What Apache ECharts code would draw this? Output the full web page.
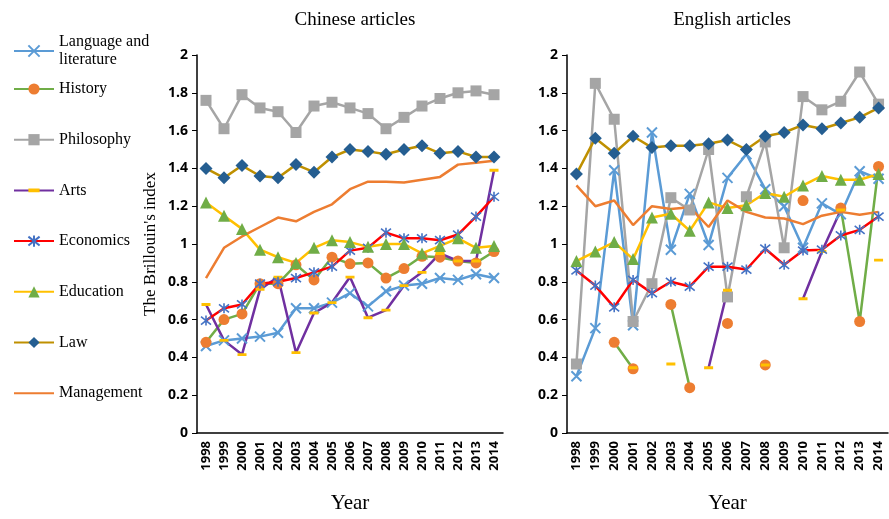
<!DOCTYPE html>
<html>
<head>
<meta charset="utf-8">
<script src="https://cdn.jsdelivr.net/npm/echarts@6/dist/echarts.min.js"></script>
<style>html,body{margin:0;padding:0;background:#fff;}#c{width:889px;height:519px;}</style>
</head>
<body>
<div id="c"></div>
<script>
const years = ['1998','1999','2000','2001','2002','2003','2004','2005','2006','2007','2008','2009','2010','2011','2012','2013','2014'];
const seriesNames = ['Language and literature','History','Philosophy','Arts','Economics','Education','Law','Management'];

// Chinese articles
const cnLanguage   = [0.46,0.49,0.50,0.51,0.53,0.66,0.66,0.69,0.74,0.67,0.75,0.78,0.79,0.82,0.81,0.84,0.82];
const cnHistory    = [0.48,0.60,0.63,0.79,0.79,0.89,0.81,0.93,0.895,0.90,0.82,0.87,0.935,0.93,0.91,0.90,0.96];
const cnPhilosophy = [1.76,1.61,1.79,1.72,1.70,1.59,1.73,1.75,1.72,1.69,1.61,1.67,1.73,1.77,1.80,1.81,1.79];
const cnArts       = [0.68,0.49,0.415,0.76,0.825,0.425,0.635,0.69,0.825,0.61,0.65,0.78,0.85,0.95,0.91,0.91,1.39];
const cnEconomics  = [0.595,0.66,0.68,0.79,0.80,0.82,0.85,0.88,0.965,0.98,1.06,1.03,1.03,1.02,1.05,1.145,1.25];
const cnEducation  = [1.22,1.15,1.08,0.97,0.93,0.90,0.98,1.02,1.01,0.985,1.00,1.00,0.95,0.99,1.03,0.98,0.99];
const cnLaw        = [1.40,1.35,1.415,1.36,1.35,1.42,1.38,1.46,1.50,1.49,1.475,1.50,1.52,1.48,1.49,1.46,1.46];
const cnManagement = [0.82,0.98,1.04,1.09,1.14,1.12,1.17,1.21,1.29,1.33,1.33,1.325,1.34,1.355,1.42,1.43,1.44];

// English articles
const enLanguage   = [0.30,0.555,1.39,0.57,1.59,0.97,1.265,0.995,1.35,1.475,1.29,1.20,0.98,1.215,1.157,1.385,1.345];
const enHistory    = [null,null,0.48,0.34,null,0.68,0.24,null,0.58,null,0.36,null,1.23,null,1.19,0.59,1.41];
const enPhilosophy = [0.365,1.85,1.66,0.59,0.79,1.245,1.18,1.50,0.72,1.25,1.54,0.98,1.78,1.71,1.755,1.91,1.74];
const enArts       = [null,null,null,0.345,null,0.365,null,0.345,0.755,null,0.36,null,0.71,0.96,1.18,null,0.915];
const enEconomics  = [0.86,0.78,0.665,0.81,0.74,0.80,0.775,0.88,0.88,0.865,0.975,0.89,0.965,0.97,1.045,1.075,1.145];
const enEducation  = [0.91,0.96,1.01,0.92,1.14,1.16,1.07,1.22,1.19,1.205,1.27,1.25,1.31,1.36,1.34,1.34,1.37];
const enLaw        = [1.37,1.56,1.48,1.57,1.51,1.52,1.52,1.53,1.55,1.50,1.57,1.59,1.63,1.61,1.64,1.67,1.72];
const enManagement = [1.31,1.20,1.23,1.10,1.20,1.185,1.195,1.09,1.23,1.17,1.14,1.135,1.105,1.15,1.17,1.155,1.17];

const cnData = [cnLanguage,cnHistory,cnPhilosophy,cnArts,cnEconomics,cnEducation,cnLaw,cnManagement];
const enData = [enLanguage,enHistory,enPhilosophy,enArts,enEconomics,enEducation,enLaw,enManagement];

const X_PATH = 'path://M0,0 L10,10 M10,0 L0,10';
const AST_PATH = 'path://M1,1 L9,9 M9,1 L1,9 M5,0 L5,10';
// square-bounded path (zero-area corner anchors) holding a flat dash in the middle
const DASH_PATH = 'path://M0,0 L0.01,0 Z M10,10 L9.99,10 Z M0,3.4 L10,3.4 L10,6.6 L0,6.6 Z';

const styles = [
  {line:'#5B9BD5', symbol:X_PATH, size:10, item:{color:'#5B9BD5', borderColor:'#5B9BD5', borderWidth:2}},
  {line:'#70AD47', symbol:'circle', size:11, item:{color:'#ED7D31'}},
  {line:'#A5A5A5', symbol:'rect', size:11, item:{color:'#A5A5A5'}},
  {line:'#7030A0', symbol:DASH_PATH, size:9, item:{color:'#FFC000'}},
  {line:'#FF0000', symbol:AST_PATH, size:10, item:{color:'#4472C4', borderColor:'#4472C4', borderWidth:1.6}},
  {line:'#FFC000', symbol:'triangle', size:12, item:{color:'#70AD47'}},
  {line:'#BF9000', symbol:'diamond', size:13, item:{color:'#255E91'}},
  {line:'#ED7D31', symbol:'none', size:0, item:{color:'#ED7D31'}}
];

function makeSeries(dataSets, idx) {
  return seriesNames.map((name, i) => ({
    name: name,
    type: 'line',
    xAxisIndex: idx,
    yAxisIndex: idx,
    data: dataSets[i],
    symbol: styles[i].symbol,
    symbolSize: styles[i].size,
    showSymbol: styles[i].symbol !== 'none',
    connectNulls: false,
    lineStyle: {color: styles[i].line, width: 2.5},
    itemStyle: styles[i].item,
    emphasis: {disabled: true},
    animation: false
  }));
}

const tickFont = {fontFamily:'Open Sans', fontWeight:'bold', color:'#000'};
function xAxisCfg(gi) {
  return {
    type:'category', gridIndex:gi, data:years, boundaryGap:true,
    axisLine:{lineStyle:{color:'#000', width:1.5}},
    axisTick:{length:5, lineStyle:{color:'#000'}},
    axisLabel:Object.assign({rotate:90, fontSize:13, margin:8}, tickFont),
    name:'Year', nameLocation:'middle', nameGap:60,
    nameTextStyle:{fontFamily:'Liberation Serif', fontSize:21, color:'#000'}
  };
}
function yAxisCfg(gi, withName) {
  const c = {
    type:'value', gridIndex:gi, min:0, max:2, interval:0.2,
    axisLine:{show:true, lineStyle:{color:'#000', width:1.5}},
    axisTick:{show:true, length:5, lineStyle:{color:'#000'}},
    splitLine:{show:false},
    axisLabel:Object.assign({fontSize:14, margin:9}, tickFont)
  };
  if (withName) {
    c.name = "The Brillouin's index";
    c.nameLocation = 'middle';
    c.nameGap = 38;
    c.nameTextStyle = {fontFamily:'Liberation Serif', fontSize:17, color:'#000'};
  }
  return c;
}

const legendText = {fontFamily:'Liberation Serif', fontSize:16, color:'#000', lineHeight:18};
const legendRest = seriesNames.slice(1).map(n => n === 'Management' ? {name:n, itemStyle:{opacity:0}} : n);

const option = {
  backgroundColor:'#fff',
  animation:false,
  title:[
    {text:'Chinese articles', left:350, top:6, textAlign:'center', textStyle:{fontFamily:'Liberation Serif', fontSize:19, fontWeight:'normal', color:'#000'}},
    {text:'English articles', left:727, top:6, textAlign:'center', textStyle:{fontFamily:'Liberation Serif', fontSize:19, fontWeight:'normal', color:'#000'}}
  ],
  legend:[
    {
      orient:'vertical', left:8, top:19, itemWidth:40, itemHeight:14, itemGap:10,
      data:[seriesNames[0]],
      formatter:function(n){ return n === 'Language and literature' ? 'Language and\nliterature' : n; },
      textStyle:Object.assign({padding:[18,0,0,0]}, legendText)
    },
    {
      orient:'vertical', left:8, top:75, itemWidth:40, itemHeight:14, itemGap:32.7,
      data:legendRest,
      textStyle:legendText
    }
  ],
  grid:[
    {left:197, right:386, top:55, bottom:82},
    {left:567, right:1, top:55, bottom:82}
  ],
  xAxis:[xAxisCfg(0), xAxisCfg(1)],
  yAxis:[yAxisCfg(0, true), yAxisCfg(1, false)],
  series: makeSeries(cnData, 0).concat(makeSeries(enData, 1))
};

const chart = echarts.init(document.getElementById('c'), null, {renderer:'canvas'});
chart.setOption(option);
</script>
</body>
</html>
